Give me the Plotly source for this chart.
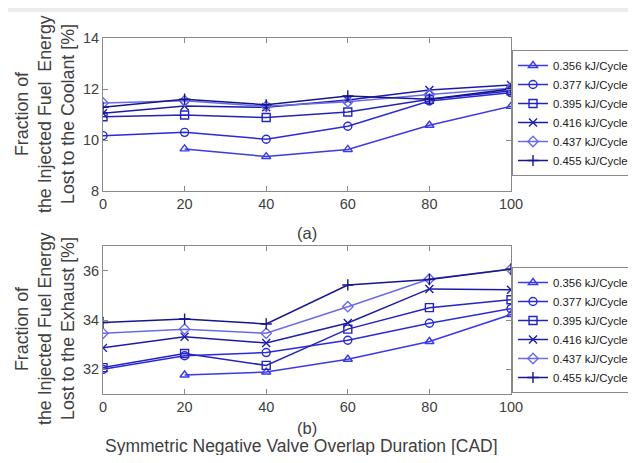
import plotly.graph_objects as go

x_cad = [0, 20, 40, 60, 80, 100]
x_cad_356 = [20, 40, 60, 80, 100]
series_names = ["0.356 kJ/Cycle", "0.377 kJ/Cycle", "0.395 kJ/Cycle",
                "0.416 kJ/Cycle", "0.437 kJ/Cycle", "0.455 kJ/Cycle"]

coolant_356 = [9.65, 9.35, 9.63, 10.58, 11.32]
coolant_377 = [10.17, 10.30, 10.03, 10.54, 11.53, 11.86]
coolant_395 = [10.91, 10.98, 10.88, 11.10, 11.60, 11.93]
coolant_416 = [11.05, 11.33, 11.28, 11.57, 11.96, 12.16]
coolant_437 = [11.45, 11.54, 11.32, 11.50, 11.78, 12.03]
coolant_455 = [11.28, 11.60, 11.38, 11.73, 11.60, 12.00]

exhaust_356 = [31.77, 31.89, 32.41, 33.13, 34.22]
exhaust_377 = [32.00, 32.55, 32.68, 33.18, 33.87, 34.46]
exhaust_395 = [32.07, 32.64, 32.16, 33.63, 34.50, 34.82]
exhaust_416 = [32.87, 33.32, 33.07, 33.88, 35.26, 35.23]
exhaust_437 = [33.46, 33.63, 33.46, 34.54, 35.66, 36.06]
exhaust_455 = [33.90, 34.04, 33.84, 35.42, 35.64, 36.06]

colors = ["#3a3ae6", "#2a2ad6", "#2424bc", "#1c1ca8", "#6a6ae8", "#16168c"]
symbols = ["triangle-up-open", "circle-open", "square-open",
           "x-thin-open", "diamond-open", "cross-thin-open"]

coolant = [coolant_356, coolant_377, coolant_395, coolant_416, coolant_437, coolant_455]
exhaust = [exhaust_356, exhaust_377, exhaust_395, exhaust_416, exhaust_437, exhaust_455]

TXT = "#404040"
FONT = "Liberation Sans, Arial, sans-serif"

fig = go.Figure()
for i, name in enumerate(series_names):
    xs = x_cad_356 if i == 0 else x_cad
    fig.add_trace(go.Scatter(
        x=xs, y=coolant[i], name=name, mode="lines+markers",
        line=dict(color=colors[i], width=1.5),
        marker=dict(symbol=symbols[i], size=8, color=colors[i],
                    line=dict(width=1.4, color=colors[i])),
        xaxis="x", yaxis="y", legend="legend"))
for i, name in enumerate(series_names):
    xs = x_cad_356 if i == 0 else x_cad
    fig.add_trace(go.Scatter(
        x=xs, y=exhaust[i], name=name, mode="lines+markers",
        line=dict(color=colors[i], width=1.5),
        marker=dict(symbol=symbols[i], size=8, color=colors[i],
                    line=dict(width=1.4, color=colors[i])),
        xaxis="x2", yaxis="y2", legend="legend2"))

# the page body has an 8px margin; the visible figure area is page x 8..628, y 8..455
OFF = 8
W, H = 620, 447
def px_x(p):
    return (p - OFF) / W
def px_y(p):
    return 1 - (p - OFF) / H

axis_common = dict(showgrid=False, zeroline=False, showline=True, linecolor="#8a8a8a",
                   linewidth=1, mirror="ticks", ticks="inside", ticklen=5,
                   tickcolor="#8a8a8a", automargin=False,
                   tickfont=dict(size=14.5, color=TXT, family=FONT))

leg_common = dict(xanchor="left", yanchor="top", bgcolor="white",
                  bordercolor="#8a8a8a", borderwidth=1,
                  font=dict(size=11.4, color="#202020", family=FONT),
                  tracegroupgap=0, itemwidth=30)

ylab_font = dict(size=17.8, color=TXT, family=FONT)

def ann(text, x, y, font, angle=0):
    return dict(text=text, xref="paper", yref="paper", x=px_x(x), y=px_y(y),
                xanchor="center", yanchor="middle", textangle=angle,
                showarrow=False, font=font)

fig.update_layout(
    width=W, height=H,
    margin=dict(l=0, r=0, t=0, b=0, autoexpand=False),
    paper_bgcolor="white", plot_bgcolor="white",
    font=dict(family=FONT, color=TXT),
    xaxis=dict(domain=[px_x(103), px_x(511)], range=[0, 100], tickvals=x_cad,
               anchor="y", **axis_common),
    yaxis=dict(domain=[px_y(191), px_y(38)], range=[8, 14], tickvals=[8, 10, 12, 14],
               anchor="x", **axis_common),
    xaxis2=dict(domain=[px_x(103), px_x(511)], range=[0, 100], tickvals=x_cad,
                anchor="y2", **axis_common),
    yaxis2=dict(domain=[px_y(394), px_y(246)], range=[31, 37], tickvals=[32, 34, 36],
                anchor="x2", **axis_common),
    legend=dict(x=px_x(512), y=px_y(50), **leg_common),
    legend2=dict(x=px_x(512), y=px_y(267), **leg_common),
    shapes=[
        dict(type="rect", xref="paper", yref="paper", x0=0, x1=1, y0=px_y(12), y1=1,
             fillcolor="#ececec", line=dict(width=0), layer="below"),
    ],
    annotations=[
        ann("Fraction of", 22, 114, ylab_font, -90),
        ann("the Injected Fuel  Energy", 45, 114, ylab_font, -90),
        ann("Lost to the Coolant [%]", 68, 114, ylab_font, -90),
        ann("Fraction of", 22, 329, ylab_font, -90),
        ann("the Injected Fuel Energy", 45, 329, ylab_font, -90),
        ann("Lost to the Exhaust [%]", 68, 329, ylab_font, -90),
        ann("(a)", 307, 233, dict(size=16.5, color=TXT, family=FONT)),
        ann("(b)", 307, 428, dict(size=16.5, color=TXT, family=FONT)),
        ann("Symmetric Negative Valve Overlap Duration [CAD]", 301, 446,
            dict(size=17.5, color=TXT, family=FONT)),
    ],
)

fig.write_html("out.html")
